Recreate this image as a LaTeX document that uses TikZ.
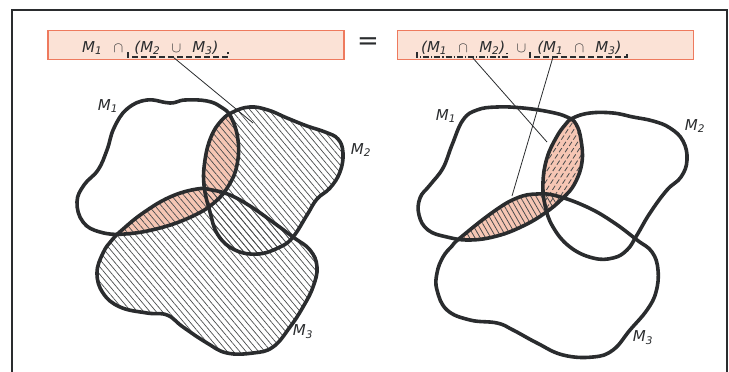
\documentclass[tikz,border=0pt]{standalone}
\usepackage{fontspec}
\setmainfont{DejaVu Sans}
\usepackage{tikz}
\usetikzlibrary{patterns.meta}
\definecolor{ink}{HTML}{2A2C2E}
\definecolor{lens}{HTML}{F6C6B4}
\definecolor{boxfill}{HTML}{FBE2D6}
\definecolor{boxedge}{HTML}{EE7A5E}

\newcommand\lMone{plot[smooth cycle,tension=0.7] coordinates {(127,109) (147,100) (170,103) (185,100) (207,101) (221,107) (231,117) (238,140) (237,165) (229,185) (215,202) (193,216) (160,228) (125,234) (100,232) (83,222) (77,202) (84,185) (98,170) (107,150) (114,128)}}
\newcommand\lMtwo{plot[smooth cycle,tension=0.7] coordinates {(233,112) (250,107) (268,110) (287,118) (307,126) (325,132) (338,139) (343,153) (340,172) (330,188) (317,199) (307,215) (293,237) (280,247) (258,254) (235,250) (218,235) (210,212) (204,185) (205,160) (211,137) (221,121)}}
\newcommand\lMthree{plot[smooth cycle,tension=0.7] coordinates {(122,230) (143,213) (170,197) (197,189) (212,190) (230,195) (250,206) (270,220) (293,237) (310,250) (317,267) (313,287) (303,307) (290,327) (273,347) (253,353) (227,353) (207,343) (183,327) (167,315) (147,313) (120,307) (103,293) (97,273) (103,253) (112,240)}}
\newcommand\rMone{plot[smooth cycle,tension=0.7] coordinates {(463,120) (477,110) (497,107) (523,108) (550,112) (567,117) (576,124) (581,140) (582,162) (575,183) (563,198) (545,213) (523,226) (497,236) (470,240) (447,237) (428,230) (419,215) (420,198) (430,185) (443,168) (452,145)}}
\newcommand\rMtwo{plot[smooth cycle,tension=0.7] coordinates {(573,118) (590,113) (613,113) (633,117) (653,121) (670,128) (683,141) (687,160) (681,177) (667,190) (650,213) (637,235) (627,250) (613,258) (593,258) (570,247) (553,227) (545,205) (543,182) (547,158) (556,138) (565,125)}}
\newcommand\rMthree{plot[smooth cycle,tension=0.7] coordinates {(460,238) (493,212) (517,198) (537,194) (557,196) (587,207) (613,222) (637,240) (652,252) (658,270) (656,292) (647,310) (630,330) (613,350) (593,357) (563,355) (537,343) (513,330) (497,323) (470,320) (447,310) (437,290) (437,273) (443,257) (452,246)}}
\newcommand\gap{\hspace{0.75em}}

\tikzset{
  blob/.style={draw=ink,line width=3.6pt,line join=round},
  formula/.style={draw=boxedge,fill=boxfill,line width=1.3pt,minimum width=296pt,minimum height=29pt,inner sep=0pt},
  lettering/.style={font=\fontsize{15}{17}\selectfont\itshape,text=ink,inner sep=0pt,anchor=base west},
  setlabel/.style={font=\fontsize{15}{18}\selectfont\itshape,text=ink,inner sep=0pt},
  pointer/.style={draw=ink,line width=0.8pt},
  brace/.style={draw=ink,line width=1.1pt},
  hatch/.style={pattern={Lines[angle=-50,distance=4.8pt,line width=0.7pt]},pattern color=ink!85},
  steephatch/.style={pattern={Lines[angle=-60,distance=4.6pt,line width=0.8pt]},pattern color=ink!85},
  dashhatch/.style={draw=ink!85,line width=0.8pt,dash pattern=on 5pt off 2.5pt}
}

\begin{document}
\begin{tikzpicture}[x=1pt,y=-1pt]
\useasboundingbox (0,0) rectangle (729,372);
\draw[ink,line width=1.6pt] (12,372)--(12,10)--(727,10)--(727,372);

\node[formula] (lbox) at (196,45) {};
\node[formula] (rbox) at (545.5,45) {};
\node[font=\fontsize{26}{30}\selectfont,text=ink] (eq) at (368,44) {=};
\node[lettering] (lterm) at (82,52) {M\textsubscript{1}\gap$\cap$\gap(M\textsubscript{2}\gap$\cup$\gap M\textsubscript{3})};
\node[lettering] (rterm) at (421,52) {(M\textsubscript{1}\gap$\cap$\gap M\textsubscript{2})\gap$\cup$\gap(M\textsubscript{1}\gap$\cap$\gap M\textsubscript{3})};

\coordinate (lb) at (173,57);
\coordinate (lt) at (253,123);
\coordinate (rb1) at (472,57);
\coordinate (rt1) at (547,142);
\coordinate (rb2) at (553,57);
\coordinate (rt2) at (512,196);
\draw[brace,dash pattern=on 6pt off 3pt] (128,52)--(128,57)--(228,57)--(228,52);
\draw[brace,dash pattern=on 6pt off 2pt on 1.2pt off 2pt] (417,52)--(417,57)--(507,57)--(507,52);
\draw[brace,dash pattern=on 6pt off 3pt] (530,52)--(530,57)--(627,57)--(627,52);

\begin{scope}
\clip \lMone;
\fill[lens] \lMtwo;
\fill[lens] \lMthree;
\end{scope}
\path[hatch] \lMtwo;
\path[hatch] \lMthree;

\begin{scope}
\clip \rMone;
\fill[lens] \rMtwo;
\fill[lens] \rMthree;
\path[steephatch] \rMthree;
\end{scope}
\begin{scope}
\clip \rMone;
\clip \rMtwo;
\foreach \k in {0,...,24}
  \draw[dashhatch] (470+\k*6,215)--++(72,-110);
\end{scope}

\draw[pointer] (lb)--(lt);
\draw[pointer] (rb1)--(rt1);
\draw[pointer] (rb2)--(rt2);

\draw[blob] \lMone;
\draw[blob] \lMtwo;
\draw[blob] \lMthree;
\draw[blob] \rMone;
\draw[blob] \rMtwo;
\draw[blob] \rMthree;

\node[setlabel] (lm1) at (108,106) {M\textsubscript{1}};
\node[setlabel] (lm2) at (361,150) {M\textsubscript{2}};
\node[setlabel] (lm3) at (303,332) {M\textsubscript{3}};
\node[setlabel] (rm1) at (446,116) {M\textsubscript{1}};
\node[setlabel] (rm2) at (695,126) {M\textsubscript{2}};
\node[setlabel] (rm3) at (643,338) {M\textsubscript{3}};
\end{tikzpicture}
\end{document}
